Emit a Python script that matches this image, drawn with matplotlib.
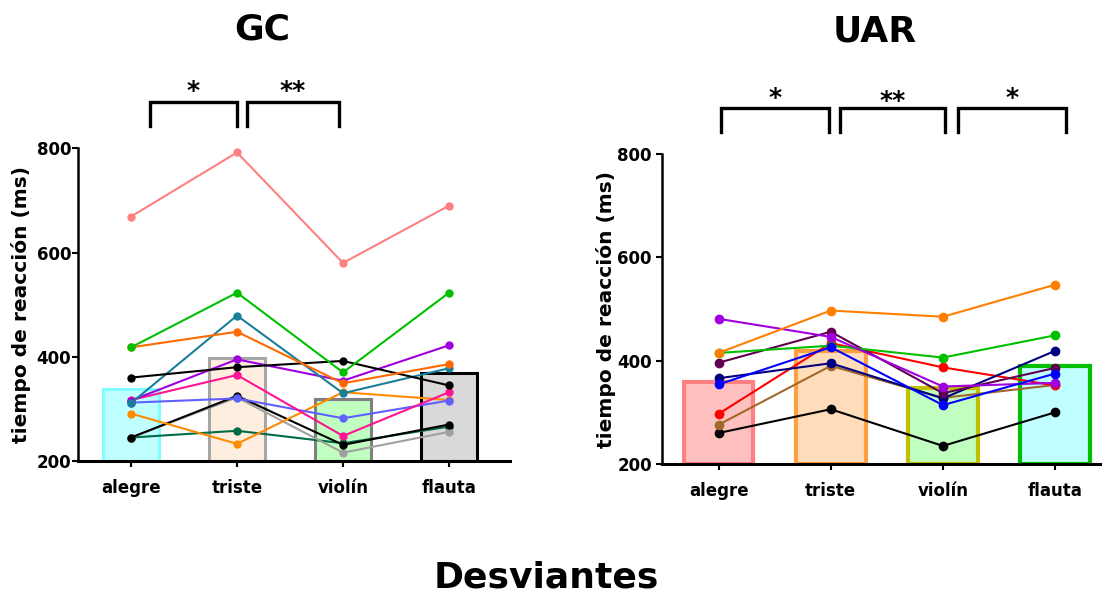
import matplotlib
matplotlib.use("Agg")
import matplotlib.pyplot as plt

plt.rcParams['font.family'] = ['DejaVu Sans']
plt.rcParams['font.weight'] = 'bold'

categories = ["alegre", "triste", "violín", "flauta"]
y_ticks = [200, 400, 600, 800]

# --- GC group: group means (bars) and individual subjects (lines) ---
gc_means = [338, 397, 319, 368]
gc_bar_fill = ["#C0FFFF", "#FDEEE0", "#C0FFC0", "#D9D9D9"]
gc_bar_edge = ["#80FFFF", "#A6A6A6", "#808080", "#000000"]

gc_subjects = [
    ("#FF8080", [669, 792, 580, 690]),
    ("#006B45", [245, 258, 234, 266]),
    ("#A0A0A0", [245, 322, 216, 256]),
    ("#000000", [245, 325, 231, 270]),
    ("#FF8C00", [291, 233, 332, 317]),
    ("#6060FF", [312, 320, 282, 316]),
    ("#FF1493", [317, 365, 248, 332]),
    ("#A000E0", [316, 395, 354, 422]),
    ("#1A7F9A", [311, 479, 330, 378]),
    ("#000000", [360, 380, 392, 345]),
    ("#FF6A00", [418, 448, 349, 386]),
    ("#00C000", [418, 523, 370, 523]),
]

# --- UAR group ---
uar_means = [359, 419, 348, 390]
uar_bar_fill = ["#FFC0C0", "#FFDDBB", "#C0FFC0", "#C0FFFF"]
uar_bar_edge = ["#FF8080", "#FFA040", "#C0C000", "#00C000"]

uar_subjects = [
    ("#000000", [260, 306, 235, 300]),
    ("#A0682A", [276, 390, 328, 353]),
    ("#FF0000", [297, 434, 387, 352]),
    ("#000080", [366, 395, 327, 419]),
    ("#600050", [396, 456, 337, 386]),
    ("#00C000", [415, 429, 406, 449]),
    ("#A000E0", [481, 446, 350, 357]),
    ("#FF8000", [415, 497, 485, 547]),
    ("#0000FF", [354, 426, 314, 375]),
]

gc_sig = [(0.18, 1.0, "*", 886), (1.09, 1.96, "**", 886)]
uar_sig = [(0.02, 0.985, "*", 886), (1.08, 2.02, "**", 880), (2.13, 3.10, "*", 886)]

W, H = 1118, 596
fig = plt.figure(figsize=(W / 100, H / 100), dpi=100)


def px_axes(x0, x1, y_top, y_bot):
    return fig.add_axes([x0 / W, 1 - y_bot / H, (x1 - x0) / W, (y_bot - y_top) / H])


def draw_panel(ax, means, fills, edges, bar_w, bar_lw, subjects, xlim, sigs,
               line_lw, msize, tick_pad):
    xs = range(len(categories))
    ax.bar(xs, [m - 200 for m in means], bottom=200, width=bar_w,
           color=fills, edgecolor=edges, linewidth=bar_lw, zorder=1)
    for color, vals in subjects:
        ax.plot(xs, vals, color=color, lw=line_lw, marker="o", ms=msize,
                zorder=3, solid_joinstyle="miter")
    ax.set_xlim(*xlim)
    ax.set_ylim(200, 800)
    ax.set_yticks(y_ticks)
    ax.set_xticks(list(xs))
    ax.set_xticklabels(categories, fontsize=12, fontweight="bold")
    ax.set_yticklabels([str(t) for t in y_ticks], fontsize=12, fontweight="bold")
    for s in ("top", "right"):
        ax.spines[s].set_visible(False)
    ax.spines["left"].set_linewidth(1.8)
    ax.spines["bottom"].set_linewidth(2.2)
    ax.tick_params(axis="y", length=4, width=1.5, pad=tick_pad)
    ax.tick_params(axis="x", length=4, width=1.5, pad=9)
    ax.set_ylabel("tiempo de reacción (ms)", fontsize=14.5, fontweight="bold")
    for x0, x1, mark, ys in sigs:
        ax.plot([x0, x0, x1, x1], [843, 889, 889, 843], color="black",
                lw=2.4, clip_on=False, solid_joinstyle="miter")
        ax.text((x0 + x1) / 2, ys, mark, ha="center", va="bottom",
                fontsize=18, fontweight="bold", clip_on=False)


ax_gc = px_axes(78.3, 510, 148.3, 461)
draw_panel(ax_gc, gc_means, gc_bar_fill, gc_bar_edge, 0.52, 2.2, gc_subjects,
           (-0.497, 3.575), gc_sig, 1.5, 5, 1)
ax_gc.yaxis.set_label_coords(-0.11, 0.5)

ax_uar = px_axes(661.7, 1100, 154, 464)
draw_panel(ax_uar, uar_means, uar_bar_fill, uar_bar_edge, 0.62, 3.0, uar_subjects,
           (-0.507, 3.40), uar_sig, 1.5, 6, 3)
ax_uar.yaxis.set_label_coords(-0.104, 0.5)

fig.text(262 / W, 1 - 30 / H, "GC", ha="center", va="center",
         fontsize=26, fontweight="bold")
fig.text(875 / W, 1 - 31 / H, "UAR", ha="center", va="center",
         fontsize=26, fontweight="bold")
fig.text(546 / W, 1 - 578 / H, "Desviantes", ha="center", va="center",
         fontsize=26, fontweight="bold")

fig.savefig("out.png", dpi=100)
